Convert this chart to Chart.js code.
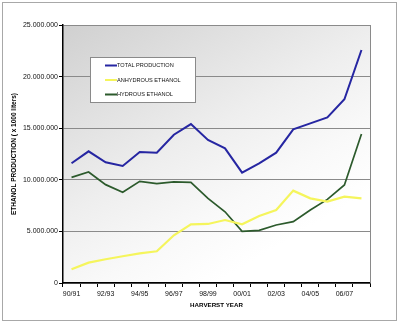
<!DOCTYPE html>
<html>
<head>
<meta charset="utf-8">
<script src="https://cdn.jsdelivr.net/npm/chart.js@4/dist/chart.umd.min.js"></script>
<style>
html,body{margin:0;padding:0;background:#fff;}
canvas{display:block;}
</style>
</head>
<body>
<canvas id="c" width="399" height="323"></canvas>
<script>
const harvestYears = ['90/91','91/92','92/93','93/94','94/95','95/96','96/97','97/98','98/99','99/00','00/01','01/02','02/03','03/04','04/05','05/06','06/07','07/08'];
const totalProduction = [11600000,12760000,11700000,11340000,12700000,12630000,14370000,15400000,13860000,13050000,10690000,11600000,12630000,14890000,15470000,16050000,17800000,22580000];
const anhydrousEthanol = [1330000,1970000,2300000,2590000,2870000,3070000,4620000,5690000,5720000,6100000,5690000,6490000,7070000,8950000,8200000,7880000,8370000,8200000];
const hydrousEthanol = [10240000,10760000,9530000,8790000,9850000,9630000,9790000,9760000,8200000,6900000,5000000,5100000,5620000,5940000,7070000,8100000,9500000,14440000];
const seriesLabels = ['TOTAL PRODUCTION','ANHYDROUS ETHANOL','HYDROUS ETHANOL'];
const yTickValues = [0,5000000,10000000,15000000,20000000,25000000];

function fmt(v){ return String(Math.round(v)).replace(/\B(?=(\d{3})+(?!\d))/g,'.'); }

const bgPlugin = {
  id:'bg',
  beforeDraw(chart){
    const {ctx, chartArea:a} = chart;
    ctx.save();
    ctx.fillStyle='#fff';
    ctx.fillRect(0,0,chart.width,chart.height);
    ctx.strokeStyle='#a8a8a8';
    ctx.lineWidth=1;
    ctx.strokeRect(2.5,2.5,394,318);
    const w = a.right-a.left;
    const g = ctx.createLinearGradient(a.left,a.top,a.left+w*0.5,a.bottom);
    g.addColorStop(0,'#d0d0d0');
    g.addColorStop(0.55,'#eeeeee');
    g.addColorStop(0.8,'#f9f9f9');
    g.addColorStop(1,'#ffffff');
    ctx.fillStyle=g;
    ctx.fillRect(a.left,a.top,w,a.bottom-a.top);
    ctx.restore();
  },
  afterDatasetsDraw(chart){
    const {ctx, chartArea:a} = chart;
    ctx.save();
    ctx.strokeStyle='#8a8a8a';
    ctx.lineWidth=1;
    ctx.beginPath();
    ctx.moveTo(Math.round(a.right)+0.5, a.top);
    ctx.lineTo(Math.round(a.right)+0.5, a.bottom);
    ctx.stroke();
    // legend box
    const box = {x:90.5, y:57.5, w:105, h:45};
    ctx.fillStyle='#fff';
    ctx.fillRect(box.x,box.y,box.w,box.h);
    ctx.strokeStyle='#8a8a8a';
    ctx.strokeRect(box.x,box.y,box.w,box.h);
    ctx.font='5.6px "Liberation Sans", Arial, sans-serif';
    ctx.textBaseline='middle';
    chart.data.datasets.forEach((ds,i)=>{
      const y = 65.5 + i*14.5;
      ctx.strokeStyle=ds.borderColor;
      ctx.lineWidth=2;
      ctx.beginPath(); ctx.moveTo(105,y); ctx.lineTo(117,y); ctx.stroke();
      ctx.fillStyle='#111';
      ctx.fillText(ds.label,117,y+0.3);
    });
    ctx.restore();
  }
};

new Chart(document.getElementById('c'),{
  type:'line',
  data:{
    labels:harvestYears,
    datasets:[
      {label:seriesLabels[0], data:totalProduction, borderColor:'#2626a2', borderWidth:2, pointRadius:0, tension:0, fill:false},
      {label:seriesLabels[1], data:anhydrousEthanol, borderColor:'#f5f55c', borderWidth:2.2, pointRadius:0, tension:0, fill:false},
      {label:seriesLabels[2], data:hydrousEthanol, borderColor:'#2c5a2c', borderWidth:1.7, pointRadius:0, tension:0, fill:false}
    ]
  },
  options:{
    responsive:false,
    animation:false,
    devicePixelRatio:1,
    layout:{padding:{left:0,top:25,right:29,bottom:0}},
    plugins:{legend:{display:false}, tooltip:{enabled:false}},
    scales:{
      x:{
        type:'category',
        offset:true,
        grid:{offset:true, drawOnChartArea:false, drawTicks:true, tickLength:4, tickColor:'#000'},
        border:{color:'#000', width:1.5},
        ticks:{
          autoSkip:false, maxRotation:0, padding:3, color:'#111',
          font:{family:'"Liberation Sans", Arial, sans-serif', size:7},
          callback:function(v,i){ return i%2===0 ? this.getLabelForValue(v) : ''; }
        },
        title:{display:true, text:'HARVERST YEAR', color:'#000',
          font:{family:'"Liberation Sans", Arial, sans-serif', size:6.2, weight:'bold'},
          padding:{top:0,bottom:13.5}},
        afterFit(s){ s.height = 40; }
      },
      y:{
        min:0, max:25000000,
        grid:{color:'#8a8a8a', lineWidth:1, tickLength:4, tickColor:'#000', drawTicks:true},
        border:{color:'#000', width:1.5},
        afterBuildTicks(s){ s.ticks = yTickValues.map(v=>({value:v})); },
        ticks:{
          padding:1, color:'#111',
          font:{family:'"Liberation Sans", Arial, sans-serif', size:7},
          callback:(v)=>fmt(v)
        },
        title:{display:true, text:'ETHANOL PRODUCTION ( x 1000 liters)', color:'#000',
          font:{family:'"Liberation Sans", Arial, sans-serif', size:6.5, weight:'bold'},
          padding:{top:10.5,bottom:0}},
        afterFit(s){ s.width = 63; }
      }
    }
  },
  plugins:[bgPlugin]
});
</script>
</body>
</html>
